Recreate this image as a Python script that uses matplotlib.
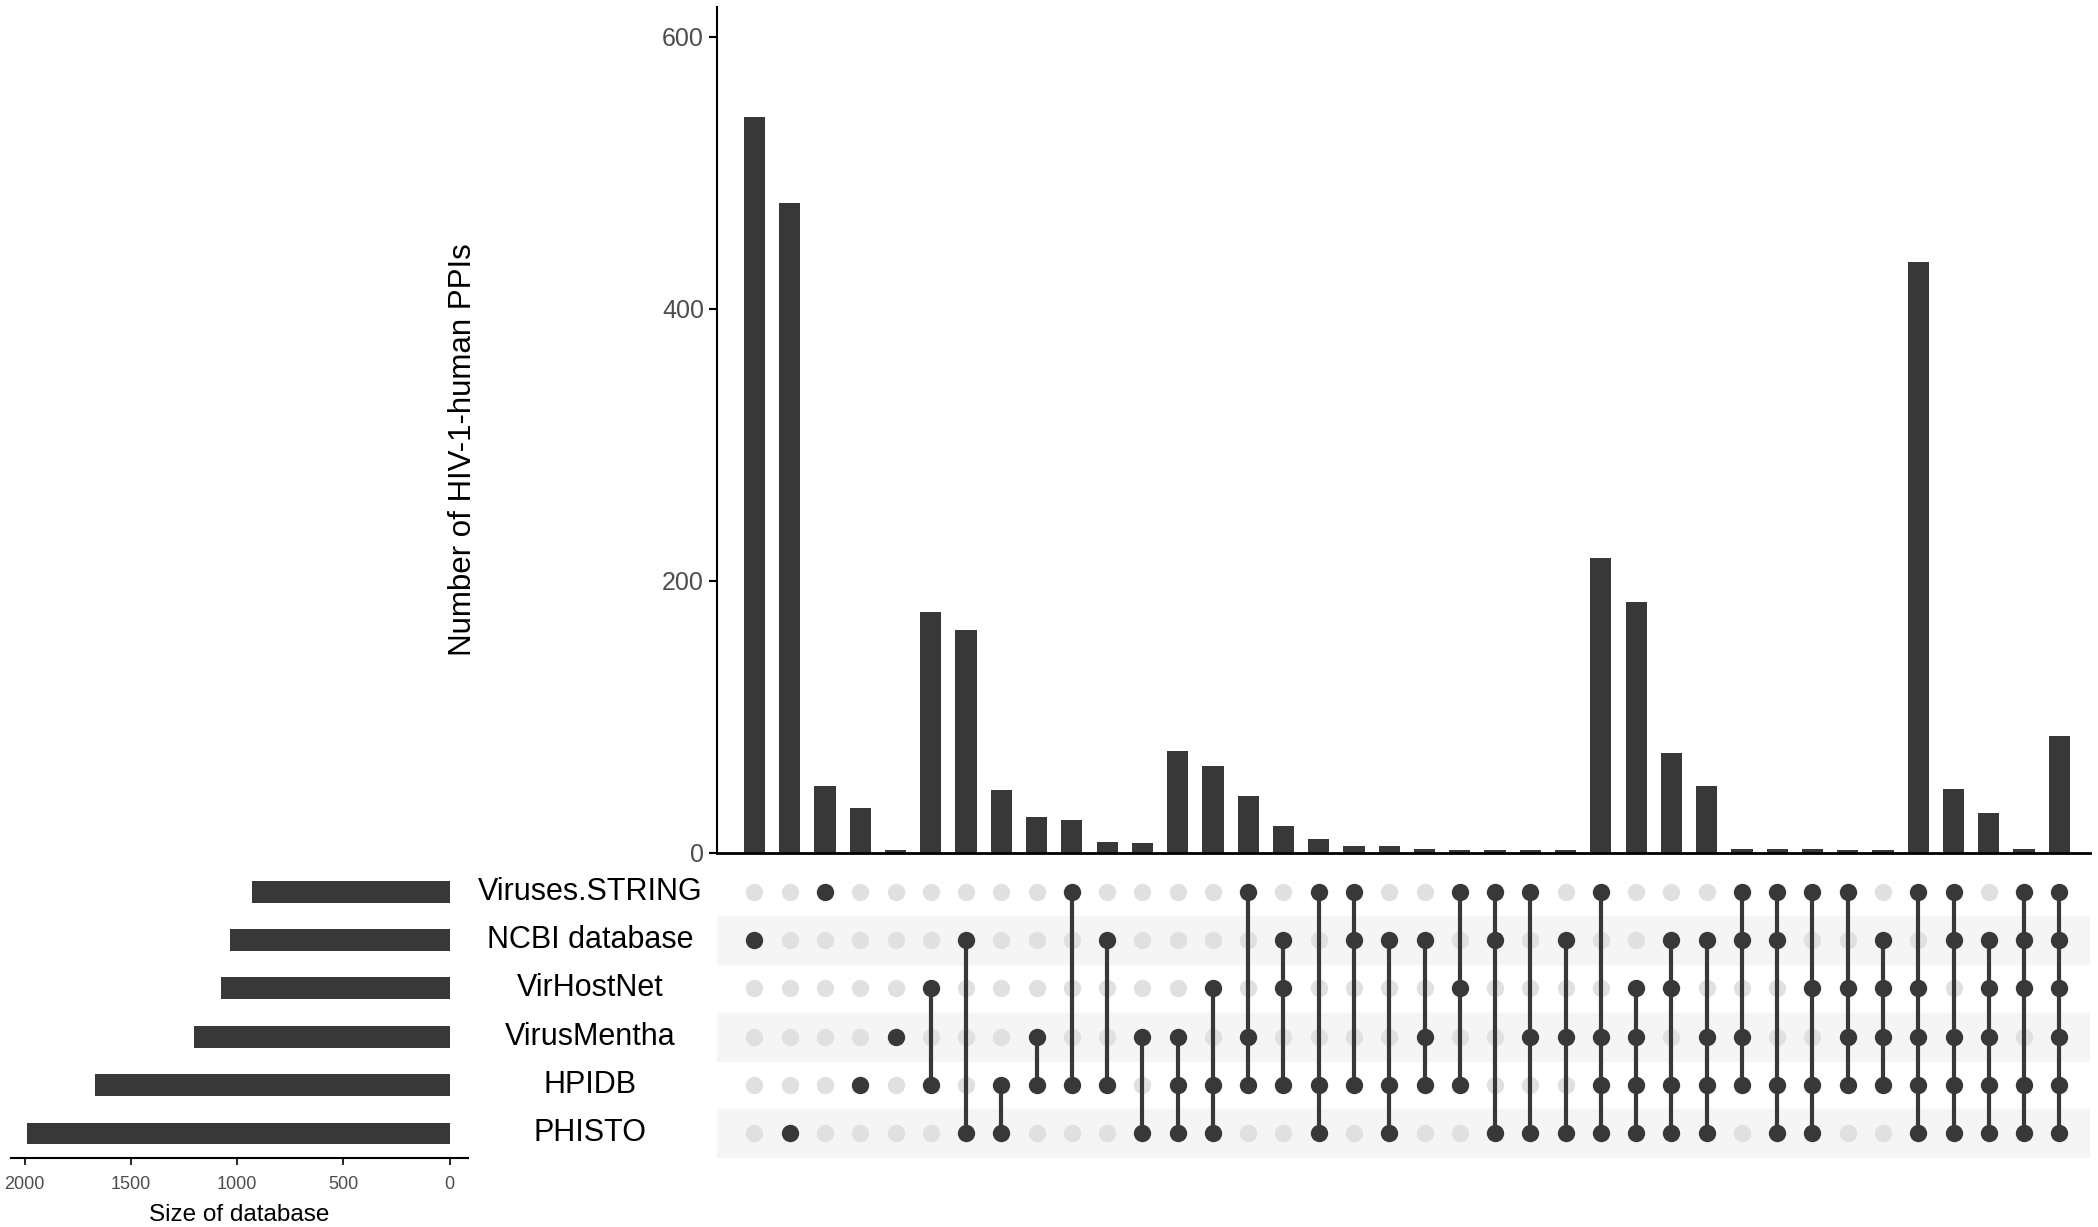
import numpy as np
import matplotlib
matplotlib.use('Agg')
import matplotlib.pyplot as plt

plt.rcParams['font.family'] = ['Liberation Sans', 'DejaVu Sans']

# sets, top row first
set_names = ['Viruses.STRING', 'NCBI database', 'VirHostNet', 'VirusMentha', 'HPIDB', 'PHISTO']
set_codes = ['S', 'N', 'V', 'M', 'H', 'P']
set_sizes = [928, 1035, 1078, 1205, 1671, 1987]

# intersections, left to right (letters = member sets)
members = ['N', 'P', 'S', 'H', 'M',
           'VH', 'NP', 'HP', 'MH', 'SH', 'NH', 'MP',
           'MHP', 'VHP', 'SMH', 'NVH', 'SHP', 'SNH', 'NHP', 'NMH', 'SVH', 'SNP', 'SMP', 'NMP',
           'SMHP', 'VMHP', 'NVHP', 'NMHP', 'SNMH', 'SNHP', 'SVHP', 'SVMH', 'NVMH',
           'SVMHP', 'SNMHP', 'NVMHP', 'SNVHP',
           'SNVMHP']
counts = [541, 478, 49, 33, 2,
          177, 164, 46, 26, 24, 8, 7,
          75, 64, 42, 20, 10, 5, 5, 3, 2, 2, 2, 2,
          217, 184, 73, 49, 3, 3, 3, 2, 2,
          434, 47, 29, 3,
          86]

bar_col = '#383838'
dot_off = '#e0e0e0'
tick_col = '#4d4d4d'

fig = plt.figure(figsize=(20.98, 12.27), dpi=100)
ax_bar = fig.add_axes([0.3418, 0.305, 0.6544, 0.6896])
ax_mat = fig.add_axes([0.3418, 0.0566, 0.6544, 0.2364])
ax_set = fig.add_axes([0.0051, 0.0566, 0.2181, 0.2364])

n = len(counts)
xs = np.arange(n)
xlim = (-1.06, n - 1 + 0.87)

# intersection bars
ax_bar.bar(xs, counts, width=0.6, color=bar_col)
ax_bar.set_xlim(*xlim)
ax_bar.set_ylim(0, 622)
ax_bar.set_yticks([0, 200, 400, 600])
ax_bar.tick_params(axis='y', labelsize=18, colors='black', labelcolor=tick_col,
                   length=6, width=1.5)
ax_bar.set_xticks([])
for s in ['top', 'right']:
    ax_bar.spines[s].set_visible(False)
ax_bar.spines['left'].set_linewidth(1.5)
ax_bar.spines['bottom'].set_linewidth(2)
ax_bar.set_ylabel('Number of HIV-1-human PPIs', fontsize=22.5)
ax_bar.yaxis.set_label_coords(-0.1745, 0.477)

# matrix
nr = len(set_names)
for r in range(nr):
    if r % 2 == 1:
        ax_mat.axhspan(r - 0.5, r + 0.5, color='#f5f5f5', zorder=0)
for i, m in enumerate(members):
    rows = [set_codes.index(c) for c in m]
    off = [r for r in range(nr) if r not in rows]
    ax_mat.plot([i] * len(off), off, 'o', color=dot_off, ms=12.5, mec='none', zorder=1)
    ax_mat.plot([i, i], [min(rows), max(rows)], '-', color=bar_col, lw=3, zorder=2)
    ax_mat.plot([i] * len(rows), rows, 'o', color=bar_col, ms=12.5, mec='none', zorder=3)
ax_mat.set_xlim(*xlim)
ax_mat.set_ylim(nr - 0.5, -0.5)
ax_mat.axis('off')
for r, name in enumerate(set_names):
    ax_mat.text(-4.67, r, name, ha='center', va='center', fontsize=22, clip_on=False)

# set sizes
ax_set.barh(np.arange(nr), set_sizes, height=0.45, color=bar_col)
ax_set.set_ylim(nr - 0.5, -0.5)
ax_set.set_xlim(2066, -88)
ax_set.set_xticks([2000, 1500, 1000, 500, 0])
ax_set.set_yticks([])
ax_set.tick_params(axis='x', labelsize=13, labelcolor=tick_col, length=5, width=1.2, pad=8)
for s in ['top', 'right', 'left']:
    ax_set.spines[s].set_visible(False)
ax_set.spines['bottom'].set_linewidth(1.5)
ax_set.set_xlabel('Size of database', fontsize=17.5, labelpad=8)

fig.savefig('out.png', dpi=100)
